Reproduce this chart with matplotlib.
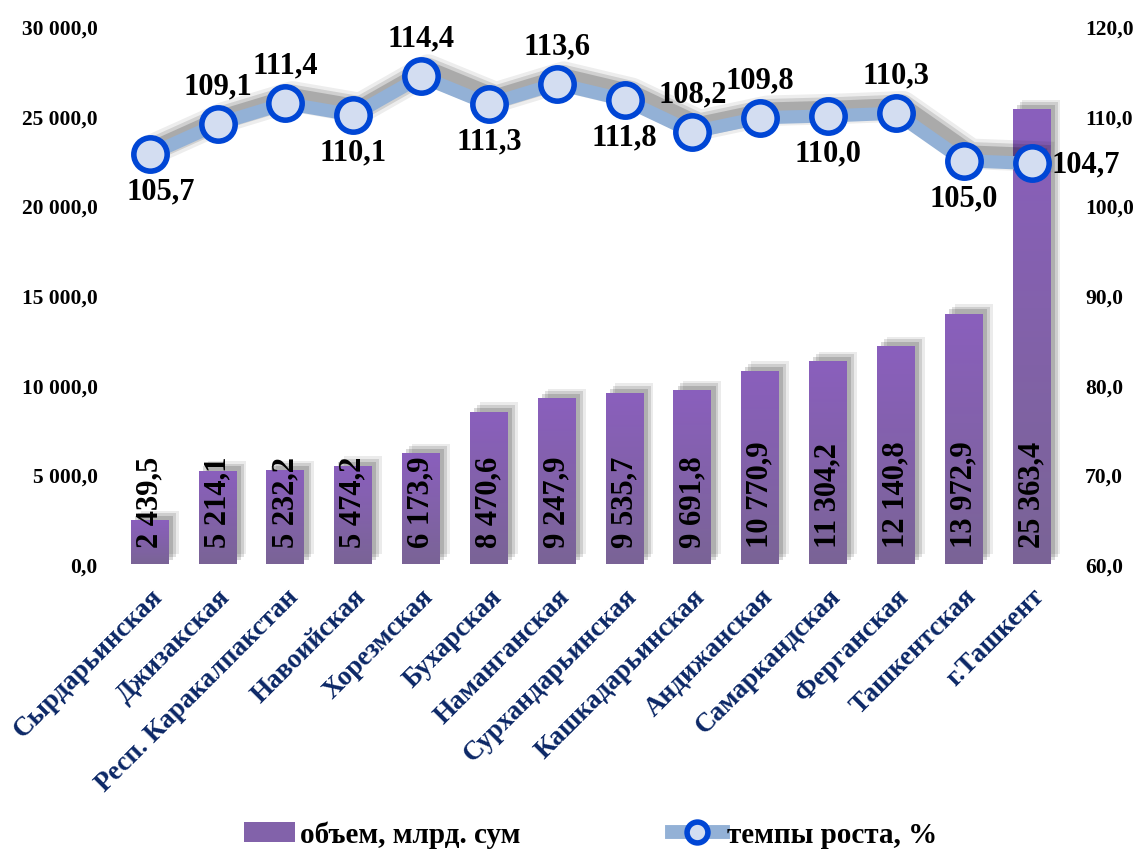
import matplotlib
matplotlib.use('Agg')
import matplotlib.pyplot as plt
import matplotlib.patheffects as pe
from matplotlib.colors import LinearSegmentedColormap
from matplotlib.patches import Patch
from matplotlib.lines import Line2D
import numpy as np

regions = ['Сырдарьинская', 'Джизакская', 'Респ. Каракалпакстан', 'Навоийская',
           'Хорезмская', 'Бухарская', 'Наманганская', 'Сурхандарьинская',
           'Кашкадарьинская', 'Андижанская', 'Самаркандская', 'Ферганская',
           'Ташкентская', 'г.Ташкент']
volume = [2439.5, 5214.1, 5232.2, 5474.2, 6173.9, 8470.6, 9247.9, 9535.7,
          9691.8, 10770.9, 11304.2, 12140.8, 13972.9, 25363.4]
growth = [105.7, 109.1, 111.4, 110.1, 114.4, 111.3, 113.6, 111.8,
          108.2, 109.8, 110.0, 110.3, 105.0, 104.7]
# where the growth label sits: above / below / right
label_pos = ['b', 'a', 'a', 'b', 'a', 'b', 'a', 'b', 'a', 'a', 'b', 'a', 'b', 'r']

left_ticks = [0, 5000, 10000, 15000, 20000, 25000, 30000]
right_ticks = [60, 70, 80, 90, 100, 110, 120]

plt.rcParams['font.family'] = ['Liberation Serif', 'DejaVu Serif']
plt.rcParams['font.weight'] = 'bold'

def fmt(v, dec=1):
    s = f'{v:,.{dec}f}'
    return s.replace(',', ' ').replace('.', ',')

fig = plt.figure(figsize=(11.36, 8.53), dpi=100)
ax = fig.add_axes([0.102, 0.3376, 0.836, 0.6304])
ax2 = ax.twinx()

x = np.arange(len(regions))
bar_shadow = [pe.SimplePatchShadow(offset=(7, 7), shadow_rgbFace='#000000', alpha=0.08),
              pe.SimplePatchShadow(offset=(5, 5), shadow_rgbFace='#000000', alpha=0.12),
              pe.SimplePatchShadow(offset=(3, 3), shadow_rgbFace='#000000', alpha=0.15),
              pe.Normal()]
bars = ax.bar(x, volume, width=0.56, color='#8262AA', zorder=2, path_effects=bar_shadow)

# vertical gradient inside each bar
cmap = LinearSegmentedColormap.from_list('bar', ['#7A6496', '#8A5FBD'])
grad = np.linspace(0, 1, 256).reshape(-1, 1)
for b in bars:
    im = ax.imshow(grad, extent=(b.get_x(), b.get_x() + b.get_width(), 0, b.get_height()),
                   origin='lower', aspect='auto', cmap=cmap, zorder=2.5)
    im.set_clip_path(b)

for xi, v in zip(x, volume):
    ax.annotate(fmt(v), (xi, 0), xytext=(0, 12), textcoords='offset points',
                rotation=90, ha='center', va='bottom', fontsize=22,
                fontweight='bold', color='black', zorder=5)

ax.set_xlim(-0.5, len(regions) - 0.5)
ax.set_ylim(0, 30000)
ax.set_yticks(left_ticks)
ax.set_yticklabels([fmt(t) for t in left_ticks], fontsize=15.5, fontweight='bold')
ax.set_xticks(x)
ax.set_xticklabels(regions, rotation=45, ha='right', rotation_mode='anchor',
                   fontsize=19.5, fontweight='bold', color='#0B2766')
ax.tick_params(axis='y', length=0, pad=13)
ax.tick_params(axis='x', length=0, pad=14)

line_shadow = [pe.SimpleLineShadow(offset=(5, 5), shadow_color='black', alpha=0.07, linewidth=22),
               pe.SimpleLineShadow(offset=(5, 5), shadow_color='black', alpha=0.12, linewidth=17),
               pe.SimpleLineShadow(offset=(5, 5), shadow_color='black', alpha=0.18, linewidth=12),
               pe.Normal()]
ax2.plot(x, growth, color='#93B1D6', lw=9.5, solid_joinstyle='round', zorder=3,
         path_effects=line_shadow)
ax2.plot(x, growth, ls='none', marker='o', markersize=24, markerfacecolor='#D3DDF1',
         markeredgecolor='#0046D5', markeredgewidth=4, zorder=4)

for i, (xi, g, p) in enumerate(zip(x, growth, label_pos)):
    if p == 'a':
        off, ha, va = (0, 17), 'center', 'bottom'
    elif p == 'b':
        off, ha, va = (8 if i == 0 else 0, -16), 'center', 'top'
    else:
        off, ha, va = (14, 0), 'left', 'center'
    ax2.annotate(fmt(g), (xi, g), xytext=off, textcoords='offset points',
                 ha=ha, va=va, fontsize=22, fontweight='bold', color='black', zorder=6)

ax2.set_ylim(60, 120)
ax2.set_yticks(right_ticks)
ax2.set_yticklabels([fmt(t) for t in right_ticks], fontsize=15.5, fontweight='bold')
ax2.tick_params(axis='y', length=0, pad=14)

for a in (ax, ax2):
    for s in a.spines.values():
        s.set_visible(False)

h1 = Patch(facecolor='#8262AA')
h2 = Line2D([], [], color='#93B1D6', lw=10, marker='o', markersize=15,
            markerfacecolor='#D3DDF1', markeredgecolor='#0046D5', markeredgewidth=4)
fig.legend([h1, h2], ['объем, млрд. сум', 'темпы роста, %'], loc='lower center',
           bbox_to_anchor=(0.52, -0.026), ncol=2, frameon=False,
           columnspacing=5.2, handlelength=1.75, handletextpad=0.15,
           prop={'weight': 'bold', 'size': 21})

fig.savefig('out.png', dpi=100)
